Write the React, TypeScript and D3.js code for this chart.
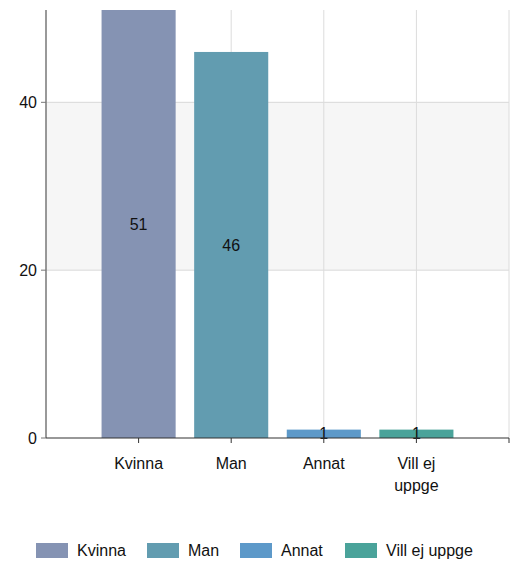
import * as React from 'react';
import * as d3 from 'd3';

const categories = ['Kvinna', 'Man', 'Annat', 'Vill ej uppge'];
const values = [51, 46, 1, 1];
const colors = ['#8593b3', '#629cb0', '#5d99c9', '#4aa39a'];
const xLabelLines = [['Kvinna'], ['Man'], ['Annat'], ['Vill ej', 'uppge']];
const yTicks = [0, 20, 40];

const W = 511;
const H = 563;
const left = 46;
const right = 509;
const top = 10;
const bottom = 438;
const font = '"Liberation Sans", Arial, sans-serif';

export default function App() {
  const x = d3.scaleLinear().domain([0, categories.length + 1]).range([left, right]);
  const y = d3.scaleLinear().domain([0, 51]).range([bottom, top]);
  const step = x(1) - x(0);
  const bw = step * 0.8;
  const xTicks = d3.range(1, categories.length + 2);

  const legendX = [36, 147, 240, 345];

  return (
    <svg width={W} height={H} style={{position: 'absolute', left: 0, top: 0}} fontFamily={font}>
      {/* band between 20 and 40 */}
      <rect x={left} y={y(40)} width={right - left} height={y(20) - y(40)} fill="#f6f6f6" />
      {yTicks.filter(t => t > 0).map(t => (
        <line key={t} x1={left} x2={right} y1={y(t)} y2={y(t)} stroke="#d8d8d8" />
      ))}
      {xTicks.map(t => (
        <line key={t} x1={x(t)} x2={x(t)} y1={top} y2={bottom} stroke="#dcdcdc" />
      ))}
      {categories.map((c, i) => (
        <rect key={c} x={x(i + 1) - bw / 2} y={y(values[i])} width={bw}
          height={bottom - y(values[i])} fill={colors[i]} />
      ))}
      {categories.map((c, i) => (
        <text key={c} x={x(i + 1)} y={(y(values[i]) + bottom) / 2} dy="0.35em"
          textAnchor="middle" fontSize={16} fill="#111">{values[i]}</text>
      ))}
      {/* y axis */}
      <line x1={left} x2={left} y1={top} y2={bottom} stroke="#777" strokeWidth={1.5} />
      {yTicks.map(t => (
        <g key={t}>
          <line x1={left - 5} x2={left} y1={y(t)} y2={y(t)} stroke="#777" />
          <text x={left - 9} y={y(t)} dy="0.35em" textAnchor="end" fontSize={16} fill="#111">{t}</text>
        </g>
      ))}
      {/* x axis */}
      <line x1={left} x2={right} y1={bottom} y2={bottom} stroke="#333" strokeWidth={1.2} />
      {xTicks.map(t => (
        <line key={t} x1={x(t)} x2={x(t)} y1={bottom} y2={bottom + 5} stroke="#333" />
      ))}
      {xLabelLines.map((lines, i) => (
        <text key={i} x={x(i + 1)} y={469} textAnchor="middle" fontSize={16} fill="#111">
          {lines.map((l, j) => (
            <tspan key={j} x={x(i + 1)} dy={j === 0 ? 0 : 22}>{l}</tspan>
          ))}
        </text>
      ))}
      {/* legend */}
      {categories.map((c, i) => (
        <g key={c} transform={`translate(${legendX[i]},543)`}>
          <rect width={32} height={15} fill={colors[i]} />
          <text x={41} y={7.5} dy="0.35em" fontSize={16} fill="#111">{c}</text>
        </g>
      ))}
    </svg>
  );
}
